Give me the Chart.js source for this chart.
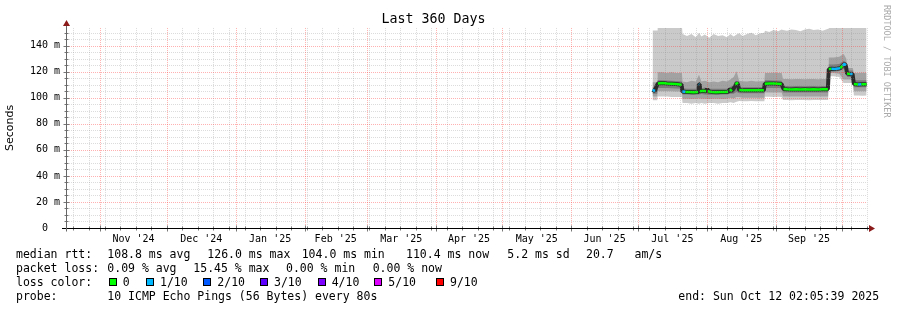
<!DOCTYPE html>
<html><head><meta charset="utf-8">
<script src="https://cdn.jsdelivr.net/npm/chart.js@4/dist/chart.umd.min.js"></script>
<style>html,body{margin:0;padding:0;background:#fff}#wrap{width:897px;height:310px}</style>
</head><body><div id="wrap"><canvas id="c" width="897" height="310"></canvas></div>
<script>
// ---------- data ----------
const titleText = "Last 360 Days";
const startTime = "2024-10-17T02:05:39Z";
const spanDays = 360;
const monthStarts = ["2024-11-01","2024-12-01","2025-01-01","2025-02-01","2025-03-01","2025-04-01","2025-05-01","2025-06-01","2025-07-01","2025-08-01","2025-09-01","2025-10-01"];
const monthLabels = ["Nov '24","Dec '24","Jan '25","Feb '25","Mar '25","Apr '25","May '25","Jun '25","Jul '25","Aug '25","Sep '25"];
const firstWeek = "2024-10-20";
const yTicks = [0,20,40,60,80,100,120,140];
const yTickLabels = ["0  ","20 m","40 m","60 m","80 m","100 m","120 m","140 m"];

// smoke (days since start)
const smokeDays = [263.5,265.6,265.8,268,270,272,274,276.7,277.0,279,281,283,284.4,285.5,287,289,291,293,295,297,298.5,300,301.3,302.5,304,306,308,310,312,313.8,314.1,316,318,320,321.6,322.2,324,326,328,330,332,334,336,338,340,342.5,342.8,345,347.5,349.5,350.7,351.1,353.6,354.1,356,358,359.8];
const smoke1Hi = [151.6,151.6,155,155,155,155,155,155,149,147.5,149,146.5,150,147,148.5,146,149,147.5,148,146.5,149,147,148.5,149.5,147.5,149,150,148,149.5,150,151.5,150.5,152,151,152.5,152,151.5,152.5,152,151,152.5,153,152,152.5,151.5,153,155,155,155,155,155,155,155,155,155,155,155];
const smoke1Lo = [98,98,101,101,101,100.5,100.5,100.5,96,96,95.5,96,95.5,96,95.5,96,96,95.5,96,96,96.5,96,97,97.5,97.4,97.4,97.5,97.3,97.4,97.4,100.7,100.7,100.5,100.7,100.5,98.2,98.2,98,98.2,98.3,98.2,98,98.2,98.3,98.2,98.2,116.5,116.5,116,111.4,111.4,111.4,111.4,101.7,101.7,101.5,101.7];
const smoke2Hi = [112,112,119.5,119.5,119,119.5,119,119,112.5,112,113,112.5,117.7,112.5,113,112,112.5,112,113,112.5,114,116,120.3,113,112.6,112.5,113,112.5,112.6,112.6,119,119,119.2,119,119,114.4,114.5,114.2,114.4,114.5,114.3,114.4,114.5,114.2,114.4,114.4,131,131,131.5,133.7,130,122.8,122.8,119,119,119.2,119];
const smoke2Lo = [101,101,105,105,105,105,104.8,104.8,99.2,99.2,99,99.2,99.5,99.2,99.2,99,99.2,99.2,99,99.2,100,99.5,100.5,100.5,100,100,100,100,100,100,104,104,104,104,104,101,101,101,101,101,101,101,101,101,101,101,119,119,118.5,114,114,114,114,105,105,105,105];
const smoke3Hi = [108,108,113.4,113.4,113.2,113,112.8,112.5,107.3,107,107,107,112,107.3,107.8,107,107,107,107,107,108.5,109.5,113,108,108,108,108,108,108,108,113.5,113.5,113.3,113.2,113,109,109,108.8,109,109,108.8,109,109,108.8,109,109,125.5,125.5,126,128.5,127,121,121,113.5,113.5,113.5,113.5];
const smoke3Lo = [103,103,107.5,107.5,107.5,107.3,107.2,107,102.5,102.5,102.3,102.5,102.5,102.8,102.5,102.3,102.5,102.3,102.5,102.5,103,103,104.5,103.5,103.5,103.5,103.5,103.5,103.5,103.5,107.5,107.5,107.5,107.5,107.3,104,104,104,104,104,104,104,104,104,104,104,120,120,120.5,122,121,116,116,108,108,108,108];

// median rtt and loss (tenths)
const medDays = [263.5,264.6,265.2,265.9,268,270,272,274,276.6,276.9,278.0,278.3,280,282,284.0,284.3,284.5,284.8,286,287.6,288.0,288.4,290,292,294,296,297.5,298.3,299.2,300.3,301.0,301.4,301.9,302.5,304,306,308,310,313.6,314.0,316,318,320,321.6,322.4,324,326,328,330,332,334,336,338,340,342.4,342.8,344.0,345.5,347.0,348.0,349.0,349.8,350.5,351.0,352.4,353.5,354.1,356,357.5,359.8];
const medVals = [106.0,105.2,108.5,110.9,111.3,111.0,110.8,110.6,110.0,104.8,104.6,104.5,104.5,104.3,104.5,110.5,110.4,105.0,105.3,105.0,107.0,105.0,104.5,104.3,104.5,104.4,104.6,106.6,105.0,108.0,110.0,111.6,110.5,106.0,105.8,105.8,105.7,105.8,105.8,110.8,111.0,110.9,110.7,110.5,106.8,106.5,106.3,106.5,106.4,106.5,106.3,106.5,106.4,106.5,106.6,122.0,122.3,122.1,122.4,122.8,124.6,126.0,124.8,118.6,118.3,118.2,110.6,110.2,110.3,110.4];
const medLoss = [1,1,0,0,0,0,0,0,0,1,1,0,0,0,0,1,1,0,0,0,0,0,0,0,0,0,0,0,0,0,0,0,0,0,0,0,0,0,0,0,0,0,0,0,0,0,0,0,0,0,0,0,0,0,0,0,1,1,1,0,1,1,0,0,1,0,0,1,0,0];

// legend texts
const rttHead = "median rtt:";
const rttStats = ["108.8 ms avg","126.0 ms max","104.0 ms min","110.4 ms now","5.2 ms sd","20.7   am/s"];
const lossHead = "packet loss:";
const lossStats = ["0.09 % avg","15.45 % max","0.00 % min","0.00 % now"];
const colorHead = "loss color:";
const lossLabels = ["0","1/10","2/10","3/10","4/10","5/10","9/10"];
const lossColors = ["#00ff00","#00b8ff","#0059ff","#5e00ff","#7e00ff","#dd00ff","#ff0000"];
const probeHead = "probe:";
const probeText = "10 ICMP Echo Pings (56 Bytes) every 80s";
const endText = "end: Sun Oct 12 02:05:39 2025";
const creditText = "RRDTOOL / TOBI OETIKER";

// ---------- helpers ----------
const startMs = Date.parse(startTime);
const dayOf = s => (Date.parse(s + "T00:00:00Z") - startMs) / 86400000;
const monthDays = monthStarts.map(dayOf);
const labelDays = monthLabels.map((_, i) => (monthDays[i] + monthDays[i + 1]) / 2);
const weekDays = [];
for (let d = dayOf(firstWeek); d < spanDays; d += 7) {
  if (!monthDays.some(m => Math.abs(m - d) < 0.5)) weekDays.push(d);
}
const pts = (xs, ys) => xs.map((x, i) => ({x: x, y: ys[i]}));
const lossColorOf = tenths => lossColors[tenths === 9 ? 6 : Math.min(tenths, 5)];

const MONO = "DejaVu Sans Mono";

const rrdPlugin = {
  id: 'rrd',
  afterDatasetsDraw(chart) {
    const {ctx, chartArea: a, scales: {x, y}} = chart;
    ctx.save();
    ctx.lineWidth = 1;
    ctx.setLineDash([1, 1]);
    const hline = (v, col) => {
      const py = Math.round(y.getPixelForValue(v)) + 0.5;
      ctx.strokeStyle = col; ctx.beginPath(); ctx.moveTo(a.left, py); ctx.lineTo(a.right, py); ctx.stroke();
    };
    const vline = (d, col) => {
      const px = Math.round(x.getPixelForValue(d)) + 0.5;
      ctx.strokeStyle = col; ctx.beginPath(); ctx.moveTo(px, a.top); ctx.lineTo(px, a.bottom); ctx.stroke();
    };
    const minorCol = 'rgba(140,140,140,0.3)';
    const majorCol = 'rgba(255,60,60,0.4)';
    for (let v = 5; v < y.max; v += 5) if (v % 20 !== 0) hline(v, minorCol);
    weekDays.forEach(d => { if (d > 0.5) vline(d, minorCol); });
    yTicks.forEach(v => { if (v > 0) hline(v, majorCol); });
    monthDays.forEach(d => { if (d > 0 && d < spanDays) vline(d, majorCol); });
    ctx.setLineDash([]);
    // axis ticks
    const by = Math.round(y.getPixelForValue(0)) + 0.5;
    const lx = Math.round(a.left) - 0.5;
    ctx.strokeStyle = '#777';
    weekDays.forEach(d => { if (d > 0.5) { const px = Math.round(x.getPixelForValue(d)) + 0.5; ctx.beginPath(); ctx.moveTo(px, by - 2); ctx.lineTo(px, by + 2); ctx.stroke(); } });
    monthDays.forEach(d => { if (d > 0 && d < spanDays) { const px = Math.round(x.getPixelForValue(d)) + 0.5; ctx.beginPath(); ctx.moveTo(px, by - 3); ctx.lineTo(px, by + 3); ctx.stroke(); } });
    for (let v = 5; v < y.max; v += 5) {
      const py = Math.round(y.getPixelForValue(v)) + 0.5;
      const w = v % 20 === 0 ? 3 : 2;
      ctx.beginPath(); ctx.moveTo(lx - w, py); ctx.lineTo(lx + w, py); ctx.stroke();
    }
    // axes
    ctx.strokeStyle = '#000';
    ctx.beginPath(); ctx.moveTo(a.left - 5, by); ctx.lineTo(a.right + 3, by); ctx.stroke();
    ctx.strokeStyle = '#666';
    ctx.beginPath(); ctx.moveTo(lx, by + 3); ctx.lineTo(lx, a.top - 4); ctx.stroke();
    // arrows
    ctx.fillStyle = '#8b1a1a';
    ctx.beginPath(); ctx.moveTo(a.right + 2, by - 3.5); ctx.lineTo(a.right + 8, by); ctx.lineTo(a.right + 2, by + 3.5); ctx.closePath(); ctx.fill();
    ctx.beginPath(); ctx.moveTo(lx - 3.5, a.top - 2); ctx.lineTo(lx, a.top - 8); ctx.lineTo(lx + 3.5, a.top - 2); ctx.closePath(); ctx.fill();
    ctx.restore();
  },
  afterDraw(chart) {
    const ctx = chart.ctx;
    ctx.save();
    ctx.fillStyle = '#000';
    ctx.font = "11.5px '" + MONO + "'";
    ctx.textBaseline = 'alphabetic';
    ctx.textAlign = 'left';
    const L1 = 258, L2 = 272, L3 = 286, L4 = 300;
    ctx.fillText(rttHead, 16, L1);
    [107.3, 207.3, 301.7, 406, 507.3, 586].forEach((px, i) => ctx.fillText(rttStats[i], px, L1));
    ctx.fillText(lossHead, 16, L2);
    [107.3, 193.3, 286, 372.7].forEach((px, i) => ctx.fillText(lossStats[i], px, L2));
    ctx.fillText(colorHead, 16, L3);
    const sqX = [108.5, 146, 203, 260, 317.5, 374, 436];
    const txX = [122.7, 160, 217.3, 274, 331.7, 388.3, 450];
    lossLabels.forEach((lab, i) => {
      ctx.fillStyle = lossColors[i];
      ctx.fillRect(Math.round(sqX[i]), 278, 8, 8);
      ctx.strokeStyle = '#000'; ctx.lineWidth = 1;
      ctx.strokeRect(Math.round(sqX[i]) + 0.5, 278.5, 7, 7);
      ctx.fillStyle = '#000';
      ctx.fillText(lab, txX[i], L3);
    });
    ctx.fillText(probeHead, 16, L4);
    ctx.fillText(probeText, 107.3, L4);
    ctx.fillText(endText, 678.3, L4);
    // credit
    ctx.translate(886, 5);
    ctx.rotate(Math.PI / 2);
    ctx.font = "8.5px '" + MONO + "'";
    ctx.fillStyle = '#aaaaaa';
    ctx.textBaseline = 'middle';
    ctx.fillText(creditText, 0, 0);
    ctx.restore();
  }
};

const bandLo = (data, order) => ({type: 'line', data: data, borderWidth: 0, pointRadius: 0, fill: false, order: order, tension: 0});
const bandHi = (data, target, color, order) => ({type: 'line', data: data, borderWidth: 0, pointRadius: 0, fill: {target: target}, backgroundColor: color, order: order, tension: 0});

new Chart(document.getElementById('c'), {
  type: 'line',
  data: {
    datasets: [
      bandLo(pts(smokeDays, smoke1Lo), 10),
      bandHi(pts(smokeDays, smoke1Hi), 0, '#cacaca', 10),
      bandLo(pts(smokeDays, smoke2Lo), 9),
      bandHi(pts(smokeDays, smoke2Hi), 2, '#a2a2a2', 9),
      bandLo(pts(smokeDays, smoke3Lo), 8),
      bandHi(pts(smokeDays, smoke3Hi), 4, '#7a7a7a', 8),
      {type: 'line', data: pts(medDays, medVals), borderColor: '#2a2a2a', borderWidth: 4, borderJoinStyle: 'bevel', pointRadius: 0, fill: false, order: 2, tension: 0},
      {type: 'line', data: pts(medDays, medVals), borderWidth: 2.5, borderJoinStyle: 'bevel', pointRadius: 0, fill: false, order: 1, tension: 0,
        borderColor: '#00ff00',
        segment: {
          borderColor: c => Math.abs(c.p1.parsed.y - c.p0.parsed.y) > 1.8 ? 'rgba(0,0,0,0)' : lossColorOf(medLoss[c.p0DataIndex])
        }}
    ]
  },
  options: {
    responsive: false,
    devicePixelRatio: 1,
    animation: false,
    events: [],
    layout: {padding: {left: 0, right: 30, top: 0, bottom: 0}},
    plugins: {
      legend: {display: false},
      tooltip: {enabled: false},
      title: {display: true, text: titleText, color: '#000', font: {family: MONO, size: 13.3, weight: 'normal'}, padding: {top: 12, bottom: 0}}
    },
    scales: {
      x: {
        type: 'linear', min: 0, max: spanDays,
        grid: {display: false, drawTicks: false}, border: {display: false},
        ticks: {autoSkip: false, maxRotation: 0, minRotation: 0, padding: 5, color: '#000', font: {family: MONO, size: 10},
          callback: (v, i) => monthLabels[i]},
        afterBuildTicks: s => { s.ticks = labelDays.map(v => ({value: v})); },
        afterFit: s => { s.height = 82; }
      },
      y: {
        type: 'linear', min: 0, max: 153.6,
        grid: {display: false, drawTicks: false}, border: {display: false},
        ticks: {padding: 7, color: '#000', font: {family: MONO, size: 10},
          callback: (v, i) => yTickLabels[i]},
        afterBuildTicks: s => { s.ticks = yTicks.map(v => ({value: v})); },
        afterFit: s => { s.width = 67; },
        title: {display: true, text: 'Seconds', color: '#000', font: {family: 'DejaVu Sans', size: 11}, padding: {top: 4, bottom: 0}}
      }
    }
  },
  plugins: [rrdPlugin]
});
</script></body></html>
